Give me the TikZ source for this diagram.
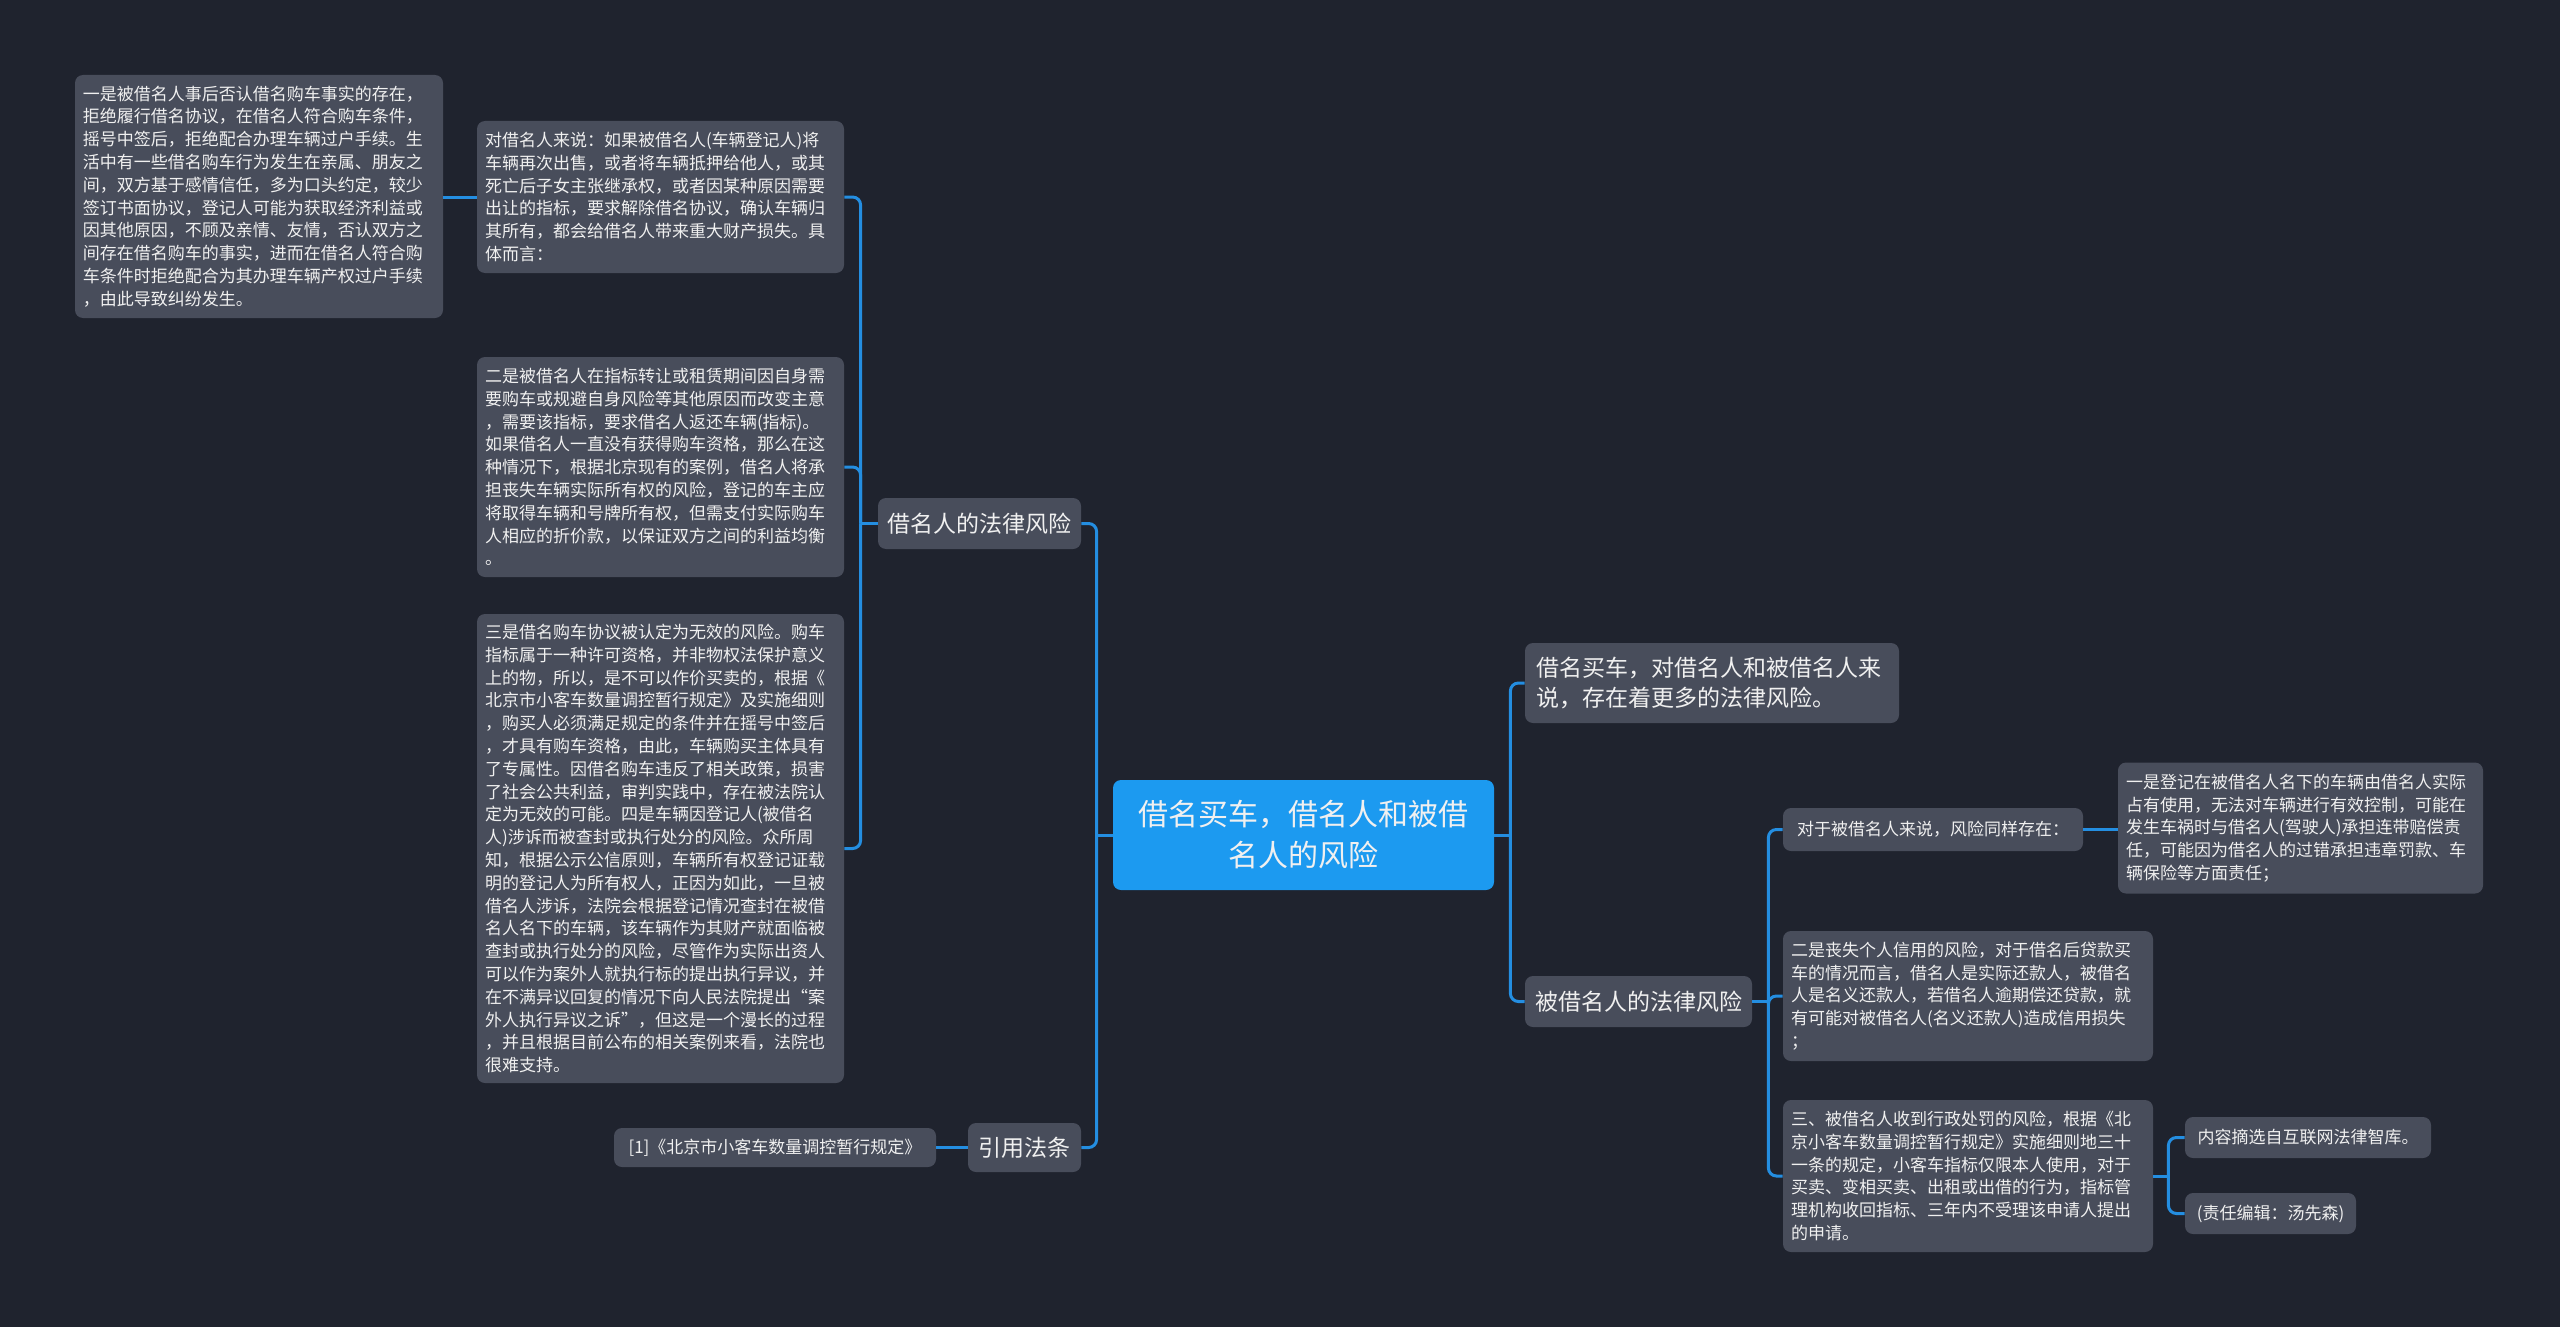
\documentclass[tikz,border=0pt]{standalone}
\usepackage{fontspec}
\setmainfont{Noto Sans CJK SC}
\definecolor{bgc}{RGB}{31,35,46}
\definecolor{nodefill}{RGB}{72,77,91}
\definecolor{rootfill}{RGB}{28,154,240}
\definecolor{linec}{RGB}{36,142,225}
\definecolor{txt}{RGB}{240,240,240}
\tikzset{
 box/.style={fill=nodefill, rounded corners=4pt, text=txt, inner xsep=4pt, inner ysep=0pt},
 small/.style={box, font=\fontsize{8.5pt}{11.4pt}\selectfont, align=left},
 smallone/.style={box, font=\fontsize{8.5pt}{11.4pt}\selectfont},
 mid/.style={box, font=\fontsize{11.5pt}{14.7pt}\selectfont},
 rootbox/.style={box, fill=rootfill, font=\fontsize{15pt}{20.5pt}\selectfont, align=center},
 conn/.style={draw=linec, line width=1.5pt, rounded corners=4pt},
}
\begin{document}
\begin{tikzpicture}[x=0.5pt,y=-0.5pt]
\fill[bgc] (0,0) rectangle (2560,1327);
\useasboundingbox (0,0) rectangle (2560,1327);

% root
\node[rootbox, minimum width=190.5pt, minimum height=55pt] (root) at (1303.5,835)
 {借名买车，借名人和被借\\名人的风险};

% left level 1
\node[mid, minimum width=101.5pt, minimum height=25.5pt] (la) at (979.5,523.5) {借名人的法律风险};
\node[mid, minimum width=56.5pt, minimum height=24.5pt] (lb) at (1024.5,1147.5) {引用法条};
\node[smallone, minimum width=161pt, minimum height=19.5pt] (lref) at (775,1147.5) {[1]《北京市小客车数量调控暂行规定》};

% left leaves
\node[small, text width=175.5pt, minimum height=76pt] (a) at (660.5,197)
 {对借名人来说：如果被借名人(车辆登记人)将\\
车辆再次出售，或者将车辆抵押给他人，或其\\
死亡后子女主张继承权，或者因某种原因需要\\
出让的指标，要求解除借名协议，确认车辆归\\
其所有，都会给借名人带来重大财产损失。具\\
体而言：};

\node[small, text width=176pt, minimum height=121.5pt] (a1) at (259,196.5)
 {一是被借名人事后否认借名购车事实的存在，\\
拒绝履行借名协议，在借名人符合购车条件，\\
摇号中签后，拒绝配合办理车辆过户手续。生\\
活中有一些借名购车行为发生在亲属、朋友之\\
间，双方基于感情信任，多为口头约定，较少\\
签订书面协议，登记人可能为获取经济利益或\\
因其他原因，不顾及亲情、友情，否认双方之\\
间存在借名购车的事实，进而在借名人符合购\\
车条件时拒绝配合为其办理车辆产权过户手续\\
，由此导致纠纷发生。};

\node[small, text width=175.5pt, minimum height=110pt] (b) at (660.5,467)
 {二是被借名人在指标转让或租赁期间因自身需\\
要购车或规避自身风险等其他原因而改变主意\\
，需要该指标，要求借名人返还车辆(指标)。\\
如果借名人一直没有获得购车资格，那么在这\\
种情况下，根据北京现有的案例，借名人将承\\
担丧失车辆实际所有权的风险，登记的车主应\\
将取得车辆和号牌所有权，但需支付实际购车\\
人相应的折价款，以保证双方之间的利益均衡\\
。};

\node[small, text width=175.5pt, minimum height=234.5pt] (c) at (660.5,848.5)
 {三是借名购车协议被认定为无效的风险。购车\\
指标属于一种许可资格，并非物权法保护意义\\
上的物，所以，是不可以作价买卖的，根据《\\
北京市小客车数量调控暂行规定》及实施细则\\
，购买人必须满足规定的条件并在摇号中签后\\
，才具有购车资格，由此，车辆购买主体具有\\
了专属性。因借名购车违反了相关政策，损害\\
了社会公共利益，审判实践中，存在被法院认\\
定为无效的可能。四是车辆因登记人(被借名\\
人)涉诉而被查封或执行处分的风险。众所周\\
知，根据公示公信原则，车辆所有权登记证载\\
明的登记人为所有权人，正因为如此，一旦被\\
借名人涉诉，法院会根据登记情况查封在被借\\
名人名下的车辆，该车辆作为其财产就面临被\\
查封或执行处分的风险，尽管作为实际出资人\\
可以作为案外人就执行标的提出执行异议，并\\
在不满异议回复的情况下向人民法院提出“案\\
外人执行异议之诉”，但这是一个漫长的过程\\
，并且根据目前公布的相关案例来看，法院也\\
很难支持。};

% right level 1
\node[mid, align=left, inner xsep=5.5pt, text width=176pt, minimum height=40pt] (ra) at (1712,683)
 {借名买车，对借名人和被借名人来\\说，存在着更多的法律风险。};
\node[mid, minimum width=113.5pt, minimum height=25.5pt] (rb) at (1638.5,1001.5) {被借名人的法律风险};

% right leaves
\node[smallone, minimum width=150pt, minimum height=21.5pt] (s1) at (1933,829.5) {对于被借名人来说，风险同样存在：};
\node[small, text width=174.5pt, minimum height=65.5pt] (t1) at (2300.5,828)
 {一是登记在被借名人名下的车辆由借名人实际\\
占有使用，无法对车辆进行有效控制，可能在\\
发生车祸时与借名人(驾驶人)承担连带赔偿责\\
任，可能因为借名人的过错承担违章罚款、车\\
辆保险等方面责任；};
\node[small, text width=177pt, minimum height=65pt] (s2) at (1968,996)
 {二是丧失个人信用的风险，对于借名后贷款买\\
车的情况而言，借名人是实际还款人，被借名\\
人是名义还款人，若借名人逾期偿还贷款，就\\
有可能对被借名人(名义还款人)造成信用损失\\
；};
\node[small, text width=177pt, minimum height=76pt] (s3) at (1968,1176)
 {三、被借名人收到行政处罚的风险，根据《北\\
京小客车数量调控暂行规定》实施细则地三十\\
一条的规定，小客车指标仅限本人使用，对于\\
买卖、变相买卖、出租或出借的行为，指标管\\
理机构收回指标、三年内不受理该申请人提出\\
的申请。};
\node[smallone, minimum width=123pt, minimum height=20.5pt] (u1) at (2308,1137.5) {内容摘选自互联网法律智库。};
\node[smallone, minimum width=85.5pt, minimum height=20.5pt] (u2) at (2270.5,1213.5) {(责任编辑：汤先森)};

% connectors: left
\draw[conn] (root.west) -- ++(-16,0) coordinate (tl);
\draw[conn] (tl) |- (la.east);
\draw[conn] (tl) |- (lb.east);
\draw[conn] (la.west) -- ++(-17,0) coordinate (tla);
\draw[conn] (tla) |- (a.east);
\draw[conn] (tla) |- (b.east);
\draw[conn] (tla) |- (c.east);
\draw[conn] (a.west) -- (a.west -| a1.east);
\draw[conn] (lb.west) -- (lref.east);

% connectors: right
\draw[conn] (root.east) -- ++(16,0) coordinate (tr);
\draw[conn] (tr) |- (ra.west);
\draw[conn] (tr) |- (rb.west);
\draw[conn] (rb.east) -- ++(16,0) coordinate (trb);
\draw[conn] (trb) |- (s1.west);
\draw[conn] (trb) |- (s2.west);
\draw[conn] (trb) |- (s3.west);
\draw[conn] (s1.east) -- (s1.east -| t1.west);
\draw[conn] (s3.east) -- ++(15,0) coordinate (ts3);
\draw[conn] (ts3) |- (u1.west);
\draw[conn] (ts3) |- (u2.west);
\end{tikzpicture}
\end{document}
